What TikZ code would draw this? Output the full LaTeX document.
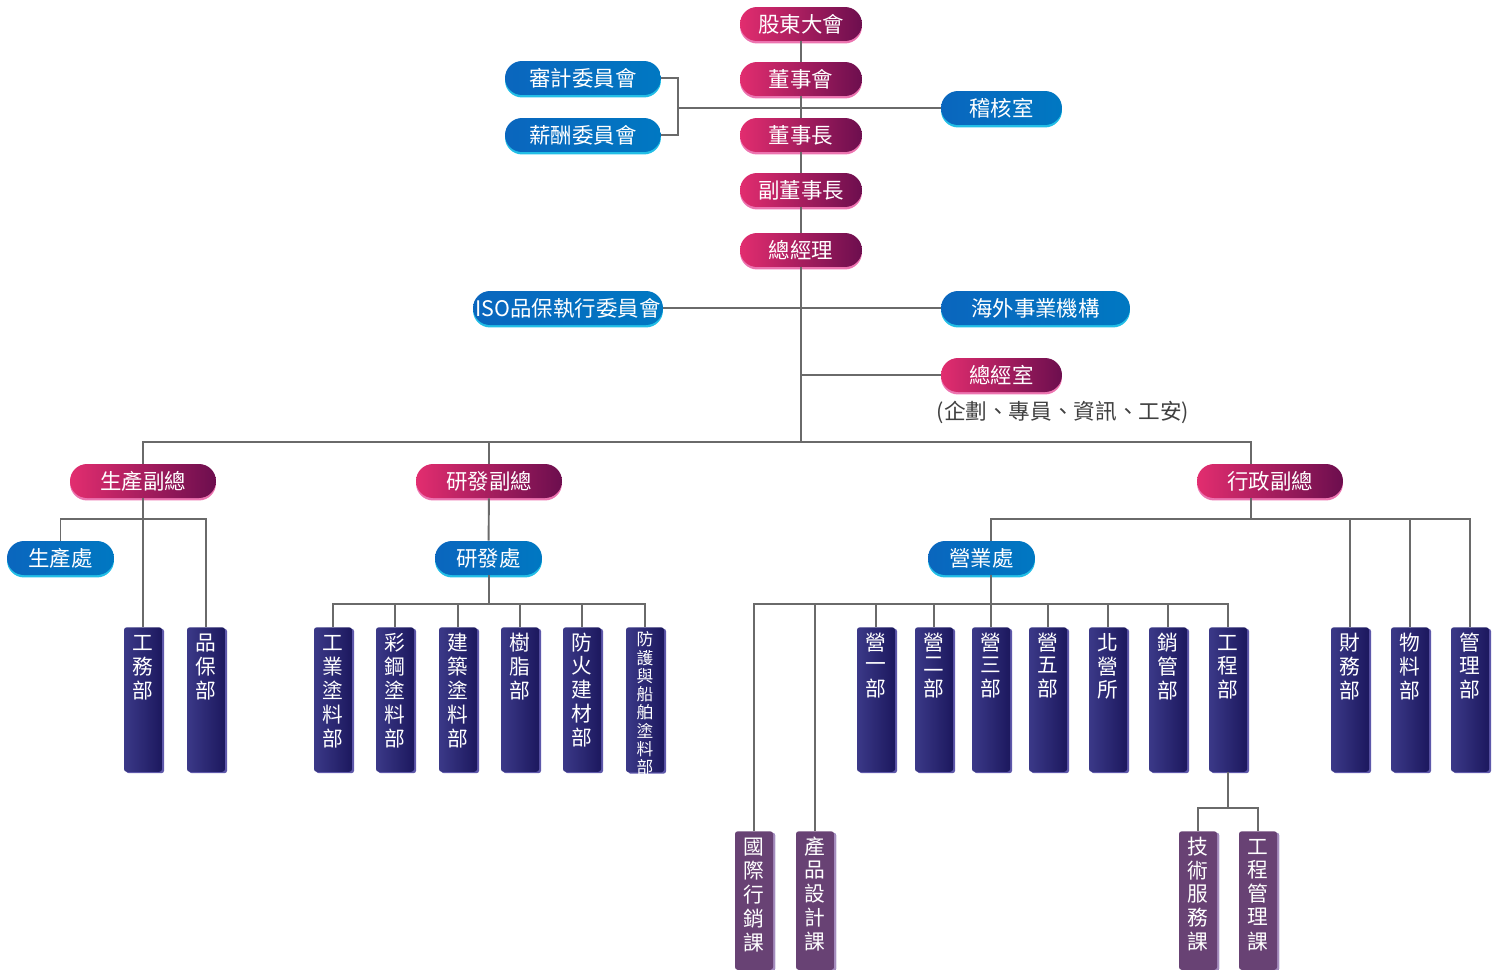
\documentclass[tikz,border=0pt]{standalone}
\usepackage{fontspec}
\usepackage{tikz}
\usepackage{xcolor}

\newfontfamily\cjk{Noto Sans CJK TC}
% stacked characters, baseline on the first one
\newcommand\vlabel[1]{\begin{tabular}[t]{@{}c@{}}#1\end{tabular}}

\definecolor{pinkL}{HTML}{E22D6F}
\definecolor{pinkR}{HTML}{6C0E4E}
\definecolor{pinkrim}{HTML}{EC74B0}
\definecolor{blueL}{HTML}{0A66BE}
\definecolor{blueR}{HTML}{0078C2}
\definecolor{bluerim}{HTML}{22BEE6}
\definecolor{navyL}{HTML}{3B3988}
\definecolor{navyR}{HTML}{1C185E}
\definecolor{navyrim}{HTML}{5E58AA}
\definecolor{purp}{HTML}{684274}
\definecolor{purprim}{HTML}{A58DBE}
\definecolor{lineg}{HTML}{6A6A6A}

\tikzset{
  conn/.style={draw=lineg, line width=1.1pt},
  pill/.style={rounded corners=0.34cm, minimum height=0.68cm, inner sep=0pt,
    text=white, font=\cjk\fontsize{12.2}{13}\selectfont},
  redpill/.style={pill, left color=pinkL, right color=pinkR,
    preaction={fill=pinkrim, transform canvas={yshift=-1.4pt}}},
  bluepill/.style={pill, left color=blueL, right color=blueR,
    preaction={fill=bluerim, transform canvas={yshift=-1.4pt}}},
  deptbox/.style={anchor=north, rounded corners=1.5pt, minimum width=0.76cm,
    inner xsep=0pt, inner ysep=3pt, text=white,
    font=\cjk\fontsize{11.8}{12.4}\selectfont, text height=10pt, text depth=66.2pt,
    left color=navyL, right color=navyR,
    preaction={fill=navyrim, transform canvas={xshift=1.2pt,yshift=-0.8pt}}},
  secbox/.style={deptbox, text depth=62.8pt, left color=purp, right color=purp,
    preaction={fill=purprim, transform canvas={xshift=1.2pt,yshift=-0.8pt}}},
  notetext/.style={text=black!75, font=\cjk\fontsize{12.3}{13}\selectfont}
}

\begin{document}
\begin{tikzpicture}[x=0.02cm, y=-0.02cm]
  \useasboundingbox (0,0) rectangle (1498,970);

  % Board level
  \node[redpill, minimum width=2.44cm] (gdh) at (801,24) {股東大會};
  \node[redpill, minimum width=2.44cm] (dsh) at (801,79) {董事會};
  \node[redpill, minimum width=2.44cm] (dsz) at (801,135) {董事長};
  \node[redpill, minimum width=2.44cm] (fdsz) at (801,190) {副董事長};
  \node[redpill, minimum width=2.44cm] (zjl) at (801,250) {總經理};
  \node[bluepill, minimum width=3.12cm] (sjw) at (583,78) {審計委員會};
  \node[bluepill, minimum width=3.12cm] (xcw) at (583,135) {薪酬委員會};
  \node[bluepill, minimum width=2.42cm] (jhs) at (1001.5,108) {稽核室};

  % Under the general manager
  \node[bluepill, minimum width=3.8cm] (iso) at (568,308) {ISO品保執行委員會};
  \node[bluepill, minimum width=3.78cm] (hwsy) at (1035.5,308) {海外事業機構};
  \node[redpill, minimum width=2.42cm] (zjs) at (1001.5,375) {總經室};
  \node[notetext] (zjsnote) at (1063,412) {(企劃、專員、資訊、工安)};

  % Vice presidents
  \node[redpill, minimum width=2.92cm] (scfz) at (143,481) {生產副總};
  \node[redpill, minimum width=2.92cm] (yffz) at (489,481) {研發副總};
  \node[redpill, minimum width=2.92cm] (xzfz) at (1270,481) {行政副總};
  \node[bluepill, minimum width=2.14cm] (scc) at (60.5,558) {生產處};
  \node[bluepill, minimum width=2.14cm] (yfc) at (488.5,558) {研發處};
  \node[bluepill, minimum width=2.14cm] (yyc) at (981.5,558) {營業處};

  % Departments
  \node[deptbox] (gwb) at (143,627) {\vlabel{工\\務\\部}};
  \node[deptbox] (pbb) at (206,627) {\vlabel{品\\保\\部}};
  \node[deptbox] (gytl) at (333,627) {\vlabel{工\\業\\塗\\料\\部}};
  \node[deptbox] (cgtl) at (395,627) {\vlabel{彩\\鋼\\塗\\料\\部}};
  \node[deptbox] (jztl) at (458,627) {\vlabel{建\\築\\塗\\料\\部}};
  \node[deptbox] (szb) at (520,627) {\vlabel{樹\\脂\\部}};
  \node[deptbox] (fhjc) at (582,627) {\vlabel{防\\火\\建\\材\\部}};
  \node[deptbox, inner ysep=2pt, text height=8.5pt, text depth=70pt,
    font=\cjk\fontsize{9.5}{8}\selectfont] (fhcb) at (645,627) {\vlabel{防\\護\\與\\船\\舶\\塗\\料\\部}};
  \node[deptbox] (y1b) at (876,627) {\vlabel{營\\一\\部}};
  \node[deptbox] (y2b) at (934,627) {\vlabel{營\\二\\部}};
  \node[deptbox] (y3b) at (991,627) {\vlabel{營\\三\\部}};
  \node[deptbox] (y5b) at (1048,627) {\vlabel{營\\五\\部}};
  \node[deptbox] (bys) at (1108,627) {\vlabel{北\\營\\所}};
  \node[deptbox] (xgb) at (1168,627) {\vlabel{銷\\管\\部}};
  \node[deptbox] (gcb) at (1228,627) {\vlabel{工\\程\\部}};
  \node[deptbox] (cwb) at (1350,627) {\vlabel{財\\務\\部}};
  \node[deptbox] (wlb) at (1410,627) {\vlabel{物\\料\\部}};
  \node[deptbox] (glb) at (1470,627) {\vlabel{管\\理\\部}};

  % Sections
  \node[secbox] (gjxx) at (754,831) {\vlabel{國\\際\\行\\銷\\課}};
  \node[secbox] (cpsj) at (815,831) {\vlabel{產\\品\\設\\計\\課}};
  \node[secbox] (jsfw) at (1198,831) {\vlabel{技\\術\\服\\務\\課}};
  \node[secbox] (gcgl) at (1258,831) {\vlabel{工\\程\\管\\理\\課}};

  % Junctions
  \coordinate (brk) at (678,108);
  \coordinate (bus) at (801,442);
  \coordinate (xzx) at (1251,0);
  \coordinate (yyx) at (991,0);
  \coordinate (scj) at (143,519);
  \coordinate (yfj) at (489,604);
  \coordinate (xzj) at (1251,519);
  \coordinate (yyj) at (991,604);
  \coordinate (gcj) at (1228,808);

  % Top chain
  \draw[conn] (gdh) -- (dsh) -- (dsz) -- (fdsz) -- (zjl);
  \draw[conn] (sjw.east) -| (brk) |- (xcw.east);
  \draw[conn] (brk) -- (jhs.west);
  \draw[conn] (iso.east) -- (hwsy.west);
  \draw[conn] (zjl.south |- zjs.west) -- (zjs.west);
  \draw[conn] (zjl.south) -- (bus);

  % Main bus
  \draw[conn] (scfz.north) |- (bus) -| (xzfz.north -| xzx);
  \draw[conn] (yffz.north) -- (yffz.north |- bus);

  % Production
  \draw[conn] (scfz) -- (gwb);
  \draw[conn] (scc.north) |- (scj) -| (pbb.north);

  % R&D
  \draw[conn] (yffz) -- (yfc);
  \draw[conn] (yfc.south -| yfj) -- (yfj);
  \draw[conn] (gytl.north) |- (yfj) -| (fhcb.north);
  \draw[conn] (cgtl.north) -- (cgtl.north |- yfj);
  \draw[conn] (jztl.north) -- (jztl.north |- yfj);
  \draw[conn] (szb.north) -- (szb.north |- yfj);
  \draw[conn] (fhjc.north) -- (fhjc.north |- yfj);

  % Administration
  \draw[conn] (xzfz.south -| xzx) -- (xzj);
  \draw[conn] (yyc.north -| yyx) |- (xzj) -| (glb.north);
  \draw[conn] (cwb.north) -- (cwb.north |- xzj);
  \draw[conn] (wlb.north) -- (wlb.north |- xzj);

  % Sales
  \draw[conn] (yyc.south -| yyx) -- (yyj);
  \draw[conn] (gjxx.north) |- (yyj) -| (gcb.north);
  \draw[conn] (cpsj.north) -- (cpsj.north |- yyj);
  \draw[conn] (y1b.north) -- (y1b.north |- yyj);
  \draw[conn] (y2b.north) -- (y2b.north |- yyj);
  \draw[conn] (y3b.north) -- (yyj);
  \draw[conn] (y5b.north) -- (y5b.north |- yyj);
  \draw[conn] (bys.north) -- (bys.north |- yyj);
  \draw[conn] (xgb.north) -- (xgb.north |- yyj);

  % Engineering
  \draw[conn] (gcb) -- (gcj);
  \draw[conn] (jsfw.north) |- (gcj) -| (gcgl.north);
\end{tikzpicture}
\end{document}
